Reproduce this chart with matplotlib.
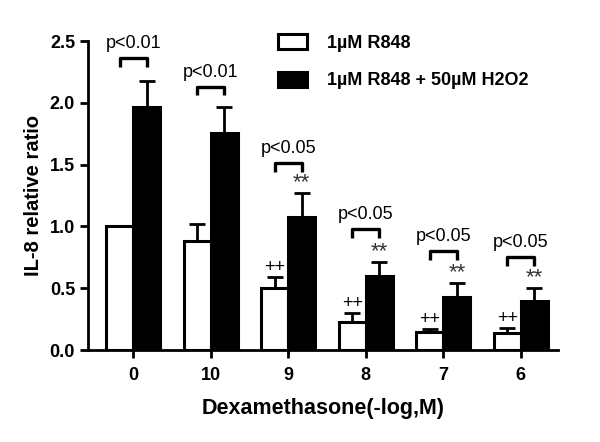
import numpy as np
import matplotlib
matplotlib.use('Agg')
import matplotlib.pyplot as plt

plt.rcParams['font.family'] = ['Liberation Sans', 'DejaVu Sans']

groups = ['0', '10', '9', '8', '7', '6']
r848 = [1.00, 0.88, 0.50, 0.23, 0.15, 0.14]
r848_err = [0.00, 0.14, 0.09, 0.07, 0.02, 0.04]
h2o2 = [1.97, 1.76, 1.08, 0.60, 0.43, 0.40]
h2o2_err = [0.21, 0.21, 0.19, 0.11, 0.11, 0.10]
p_text = ['p<0.01', 'p<0.01', 'p<0.05', 'p<0.05', 'p<0.05', 'p<0.05']
bracket_y = [2.36, 2.13, 1.51, 0.98, 0.80, 0.75]
stars = ['', '', '**', '**', '**', '**']
plus = ['', '', '++', '++', '++', '++']

fig = plt.figure(figsize=(6, 4.42), dpi=100)
ax = fig.add_axes([0.147, 0.208, 0.783, 0.699])

x = np.arange(len(groups))
w = 0.35
lw = 2.0

ax.bar(x - w / 2, r848, w, color='white', edgecolor='black', linewidth=2.2,
       label='1\u00b5M R848', zorder=2)
ax.bar(x + w / 2, h2o2, w, color='black', edgecolor='black', linewidth=2.2,
       label='1\u00b5M R848 + 50\u00b5M H2O2', zorder=2)
ax.errorbar(x - w / 2, r848, yerr=[np.zeros(len(x)), r848_err], fmt='none',
            ecolor='black', elinewidth=lw, capsize=5.5, capthick=lw, zorder=1)
ax.errorbar(x + w / 2, h2o2, yerr=[np.zeros(len(x)), h2o2_err], fmt='none',
            ecolor='black', elinewidth=lw, capsize=5.5, capthick=lw, zorder=1)

for i in range(len(groups)):
    yb = bracket_y[i]
    ax.plot([x[i] - w / 2, x[i] - w / 2, x[i] + w / 2, x[i] + w / 2],
            [yb - 0.07, yb, yb, yb - 0.07], color='black', lw=2.4,
            solid_joinstyle='round', solid_capstyle='butt', clip_on=False)
    ax.text(x[i], yb + 0.05, p_text[i], ha='center', va='bottom',
            fontsize=13, clip_on=False)
    if stars[i]:
        ax.text(x[i] + w / 2, h2o2[i] + h2o2_err[i] + 0.0, stars[i],
                ha='center', va='bottom', fontsize=16, color='#333333')
    if plus[i]:
        ax.text(x[i] - w / 2, r848[i] + r848_err[i] + 0.01, plus[i],
                ha='center', va='bottom', fontsize=13)

ax.set_xlim(-0.58, 5.48)
ax.set_ylim(0, 2.5)
ax.set_yticks([0, 0.5, 1.0, 1.5, 2.0, 2.5])
ax.set_yticklabels(['0.0', '0.5', '1.0', '1.5', '2.0', '2.5'])
ax.set_xticks(x)
ax.set_xticklabels(groups)
for lab in ax.get_xticklabels() + ax.get_yticklabels():
    lab.set_fontweight('bold')
    lab.set_fontsize(13)
ax.tick_params(width=lw, length=6)
ax.tick_params(axis='x', pad=6)

for s in ['top', 'right']:
    ax.spines[s].set_visible(False)
for s in ['left', 'bottom']:
    ax.spines[s].set_linewidth(lw)

ax.set_xlabel('Dexamethasone(-log,M)', fontsize=15.5, fontweight='bold', labelpad=10)
ax.set_ylabel('IL-8 relative ratio', fontsize=14.5, fontweight='bold', labelpad=5)

leg = ax.legend(loc='upper left', bbox_to_anchor=(0.37, 1.075), frameon=False,
                prop={'weight': 'bold', 'size': 13}, handlelength=1.6,
                handleheight=0.9, labelspacing=1.1, handletextpad=1.1)

plt.savefig('out.png', dpi=100)
